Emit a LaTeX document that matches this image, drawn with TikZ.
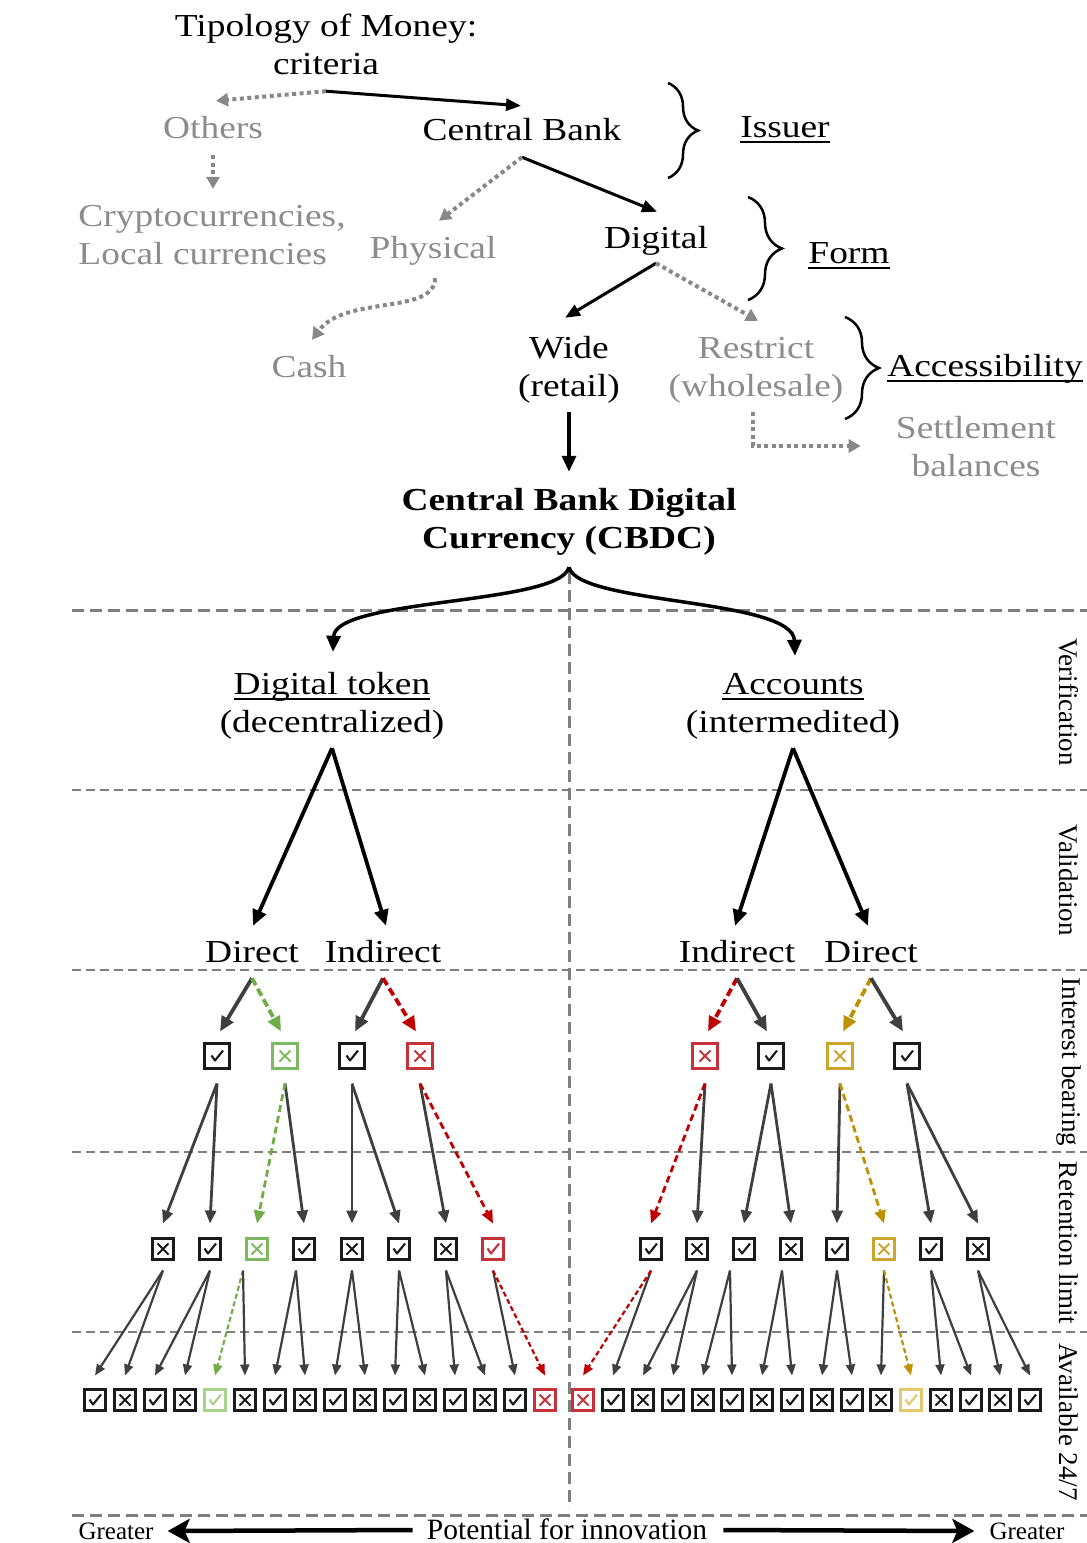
\documentclass[tikz,border=0pt]{standalone}
\usepackage{fontspec}
\setmainfont{Liberation Serif}[FakeStretch=1.17]
\newfontfamily\plainfont{Liberation Serif}
\usetikzlibrary{arrows.meta,calc,decorations.pathreplacing}
\definecolor{dg}{HTML}{3F3F3F}
\definecolor{gtxt}{HTML}{8C8C8C}
\definecolor{gar}{HTML}{888888}
\definecolor{dashc}{HTML}{7F7F7F}
\definecolor{cgrn}{HTML}{70AD47}
\definecolor{cred}{HTML}{C00000}
\definecolor{cgold}{HTML}{BF9000}
\definecolor{lgrn}{HTML}{7DB862}
\definecolor{llgrn}{HTML}{A9D18E}
\definecolor{lred}{HTML}{C7323A}
\definecolor{lgold}{HTML}{CCA52C}
\definecolor{llgold}{HTML}{E3C870}
\definecolor{bk}{HTML}{1A1A1A}
\newcommand\myul[1]{\setbox0\hbox{#1}\rlap{\rule[-5pt]{\wd0}{1.6pt}}\box0}
\begin{document}
\begin{tikzpicture}[x=1pt,y=-1pt,
 txt/.style={font=\fontsize{32}{38}\selectfont, inner sep=0pt, align=center},
 one/.style={text height=26.6pt, text depth=11.4pt},
 gtx/.style={txt, text=gtxt},
 side/.style={font=\plainfont\fontsize{27}{30}\selectfont, rotate=-90, inner sep=0pt},
 bt/.style={font=\plainfont\fontsize{25}{30}\selectfont, inner sep=0pt},
 bt2/.style={font=\plainfont\fontsize{29.5}{34}\selectfont, inner sep=0pt},
 hd/.style={draw=dashc, line width=2pt, dash pattern=on 9pt off 5pt},
 hdk/.style={draw=dashc, line width=3pt, dash pattern=on 12pt off 6pt},
 ar/.style={-{Triangle[length=15pt,width=12pt]}, line width=3pt, black},
 dt/.style={-{Triangle[length=12pt,width=13pt]}, line width=4pt, gar, dash pattern=on 4pt off 3.5pt},
 br/.style={decorate, decoration={brace, amplitude=#1}, line width=2.5pt},
 t1/.style={-{Triangle[length=16pt,width=14pt]}, line width=3.8pt, black},
 t2/.style={-{Triangle[length=15pt,width=13pt]}, line width=3.8pt, dg},
 t2d/.style={t2, draw=#1, dash pattern=on 8pt off 4pt},
 t3/.style={-{Triangle[length=13pt,width=11pt]}, line width=2.8pt, dg},
 t3d/.style={t3, draw=#1, dash pattern=on 7pt off 4pt},
 t4/.style={-{Triangle[length=11pt,width=9pt]}, line width=2.2pt, dg},
 t4d/.style={t4, draw=#1, dash pattern=on 5pt off 3pt},
 bigar/.style={-{Stealth[length=22pt,width=24pt,inset=5pt]}, line width=4.5pt, black},
 cbx/.style={draw=#1, line width=2.1pt, minimum size=21pt, inner sep=0pt, outer sep=0pt, fill=white},
 ibx/.style={minimum size=25pt},
 ck/.style={cbx=#1, path picture={\draw[#1, line width=2.1pt, line join=round]
   ([shift={(-5.5pt,0.5pt)}]path picture bounding box.center) --
   ([shift={(-2pt,-4.5pt)}]path picture bounding box.center) --
   ([shift={(6pt,5.5pt)}]path picture bounding box.center);}},
 xk/.style={cbx=#1, path picture={\draw[#1, line width=2pt]
   ([shift={(-5.5pt,-5.5pt)}]path picture bounding box.center) --
   ([shift={(5.5pt,5.5pt)}]path picture bounding box.center)
   ([shift={(-5.5pt,5.5pt)}]path picture bounding box.center) --
   ([shift={(5.5pt,-5.5pt)}]path picture bounding box.center);}}
]
\useasboundingbox (0,0) rectangle (1087,1543);

% ---------- grid ----------
\draw[hdk] (72,610) -- (1087,610);
\foreach \yy in {790,970,1152,1332} \draw[hd] (72,\yy) -- (1087,\yy);
\draw[hdk] (72,1515) -- (1087,1515);
\draw[hdk] (569,572) -- (569,1508);

% ---------- top part ----------
\node[txt] (title) at (326,48) {\strut Tipology of Money:\\\strut criteria};
\node[gtx,one] (others) at (213,131) {Others};
\node[gtx,align=left] (crypto) at (212,238) {\strut Cryptocurrencies,\\\strut Local currencies};
\node[txt,one] (cb) at (522,133) {Central Bank};
\node[gtx,one] (phys) at (433,251) {Physical};
\node[gtx,one] (cash) at (309,370) {Cash};
\node[txt,one] (dig) at (656,241) {Digital};
\node[txt] (wide) at (569,370) {\strut Wide\\\strut(retail)};
\node[gtx] (restr) at (756,370) {\strut Restrict\\\strut(wholesale)};
\node[gtx] (settle) at (976,450) {\strut Settlement\\\strut balances};
\node[txt,one] (issuer) at (785,130) {\myul{Issuer}};
\node[txt,one] (form) at (849,256) {\myul{Form}};
\node[txt,one] (access) at (985,369) {\myul{Accessibility}};
\node[txt,font=\fontsize{32}{38}\selectfont\bfseries] (cbdc) at (569,522) {\strut Central Bank Digital\\\strut Currency (CBDC)};

\draw[br=30pt] (668,83) -- (668,178);
\draw[br=34pt] (748,197) -- (748,300);
\draw[br=34pt] (845,317) -- (845,419);

\draw[ar] ($(title.south)+(0,5)$) -- ($(cb.north)+(-1,-8)$);
\draw[dt] ($(title.south)+(0,5)$) -- ($(others.north)+(3,-11)$);
\draw[dt] ($(others.south)+(0,5)$) -- ($(crypto.north)+(1,-11)$);
\draw[ar] ($(cb.south)+(0,5)$) -- ($(dig.north)+(1,-10)$);
\draw[dt] ($(cb.south)+(0,5)$) -- ($(phys.north)+(6,-11)$);
\draw[dt] ($(phys.south)+(2,8)$) .. controls (435,315) and (345,295) .. ($(cash.north)+(3,-11)$);
\draw[ar] ($(dig.south)+(0,3)$) -- ($(wide.north)+(-4,-14)$);
\draw[dt] ($(dig.south)+(0,3)$) -- ($(restr.north)+(2,-11)$);
\draw[dt] ($(restr.south)+(-3,4)$) |- ($(settle.west)+(-35,-4)$);
\draw[ar, line width=3.5pt, -{Triangle[length=16pt,width=14pt]}] ($(wide.south)+(0,4)$) -- ($(cbdc.north)+(0,-12)$);

\node[txt] (tok) at (332,706) {\strut\myul{Digital token}\\\strut(decentralized)};
\node[txt] (acc) at (793,706) {\strut\myul{Accounts}\\\strut(intermedited)};
\draw[ar, line width=3.5pt, -{Triangle[length=16pt,width=14pt]}] ($(cbdc.south)+(0,7)$) .. controls (560,605) and (335,598) .. ($(tok.north)+(1,-16)$);
\draw[ar, line width=3.5pt, -{Triangle[length=16pt,width=14pt]}] ($(cbdc.south)+(0,7)$) .. controls (578,605) and (793,598) .. ($(acc.north)+(2,-12)$);

% ---------- side labels ----------
\node[side] (s1) at (1069,702) {Verification};
\node[side] (s2) at (1069,880) {Validation};
\node[side] (s3) at (1069,1062) {Interest bearing};
\node[side] (s4) at (1069,1243) {Retention limit};
\node[side] (s5) at (1069,1422) {Available 24/7};

% ---------- validation ----------
\node[txt,one] (dL) at (252,955) {Direct};
\node[txt,one] (iL) at (383,955) {Indirect};
\node[txt,one] (iR) at (737,955) {Indirect};
\node[txt,one] (dR) at (871,955) {Direct};
\draw[t1] ($(tok.south)+(0,4)$) -- ($(dL.north)+(1,-10)$);
\draw[t1] ($(tok.south)+(0,4)$) -- ($(iL.north)+(3,-10)$);
\draw[t1] ($(acc.south)+(0,4)$) -- ($(iR.north)+(-2,-10)$);
\draw[t1] ($(acc.south)+(0,4)$) -- ($(dR.north)+(-3,-10)$);

% ---------- interest bearing boxes ----------
\node[ck=bk, ibx] (i1) at (217,1056) {};
\node[xk=lgrn, ibx] (i2) at (285,1056) {};
\node[ck=bk, ibx] (i3) at (352,1056) {};
\node[xk=lred, ibx] (i4) at (420,1056) {};
\node[xk=lred, ibx] (j1) at (705,1056) {};
\node[ck=bk, ibx] (j2) at (771,1056) {};
\node[xk=lgold, ibx] (j3) at (840,1056) {};
\node[ck=bk, ibx] (j4) at (907,1056) {};

\draw[t2] ($(dL.south)+(0,4)$) -- ($(i1.north)+(3,-12)$);
\draw[t2d=cgrn] ($(dL.south)+(0,4)$) -- ($(i2.north)+(-4,-12)$);
\draw[t2] ($(iL.south)+(0,4)$) -- ($(i3.north)+(3,-12)$);
\draw[t2d=cred] ($(iL.south)+(0,4)$) -- ($(i4.north)+(-4,-12)$);
\draw[t2d=cred] ($(iR.south)+(0,4)$) -- ($(j1.north)+(3,-12)$);
\draw[t2] ($(iR.south)+(0,4)$) -- ($(j2.north)+(-4,-12)$);
\draw[t2d=cgold] ($(dR.south)+(0,4)$) -- ($(j3.north)+(3,-12)$);
\draw[t2] ($(dR.south)+(0,4)$) -- ($(j4.north)+(-4,-12)$);

% ---------- retention boxes ----------
\node[xk=bk] (r1) at (163,1249) {};
\node[ck=bk] (r2) at (210,1249) {};
\node[xk=lgrn]  (r3) at (257,1249) {};
\node[ck=bk] (r4) at (304,1249) {};
\node[xk=bk] (r5) at (352,1249) {};
\node[ck=bk] (r6) at (399,1249) {};
\node[xk=bk] (r7) at (446,1249) {};
\node[ck=lred]  (r8) at (493,1249) {};
\node[ck=bk] (q1) at (651,1249) {};
\node[xk=bk] (q2) at (697,1249) {};
\node[ck=bk] (q3) at (744,1249) {};
\node[xk=bk] (q4) at (791,1249) {};
\node[ck=bk] (q5) at (837,1249) {};
\node[xk=lgold] (q6) at (884,1249) {};
\node[ck=bk] (q7) at (931,1249) {};
\node[xk=bk] (q8) at (978,1249) {};

\foreach \a/\b in {i1/r1,i1/r2,i2/r4,i3/r5,i3/r6,i4/r7,j1/q2,j2/q3,j2/q4,j3/q5,j4/q7,j4/q8}
  \draw[t3] ($(\a.south)+(0,15)$) -- ($(\b.north)+(0,-15)$);
\draw[t3d=cgrn] ($(i2.south)+(0,15)$) -- ($(r3.north)+(0,-15)$);
\draw[t3d=cred] ($(i4.south)+(0,15)$) -- ($(r8.north)+(0,-15)$);
\draw[t3d=cred] ($(j1.south)+(0,15)$) -- ($(q1.north)+(0,-15)$);
\draw[t3d=cgold] ($(j3.south)+(0,15)$) -- ($(q6.north)+(0,-15)$);

% ---------- available 24/7 boxes ----------
\node[ck=bk] (b1) at (95,1400) {};
\node[xk=bk] (b2) at (125,1400) {};
\node[ck=bk] (b3) at (155,1400) {};
\node[xk=bk] (b4) at (185,1400) {};
\node[ck=llgrn] (b5) at (215,1400) {};
\node[xk=bk] (b6) at (245,1400) {};
\node[ck=bk] (b7) at (275,1400) {};
\node[xk=bk] (b8) at (305,1400) {};
\node[ck=bk] (b9) at (335,1400) {};
\node[xk=bk] (b10) at (365,1400) {};
\node[ck=bk] (b11) at (395,1400) {};
\node[xk=bk] (b12) at (425,1400) {};
\node[ck=bk] (b13) at (455,1400) {};
\node[xk=bk] (b14) at (485,1400) {};
\node[ck=bk] (b15) at (515,1400) {};
\node[xk=lred] (b16) at (545,1400) {};
\node[xk=lred] (c1) at (583,1400) {};
\node[ck=bk] (c2) at (613,1400) {};
\node[xk=bk] (c3) at (643,1400) {};
\node[ck=bk] (c4) at (673,1400) {};
\node[xk=bk] (c5) at (703,1400) {};
\node[ck=bk] (c6) at (732,1400) {};
\node[xk=bk] (c7) at (762,1400) {};
\node[ck=bk] (c8) at (792,1400) {};
\node[xk=bk] (c9) at (822,1400) {};
\node[ck=bk] (c10) at (852,1400) {};
\node[xk=bk] (c11) at (881,1400) {};
\node[ck=llgold] (c12) at (911,1400) {};
\node[xk=bk] (c13) at (941,1400) {};
\node[ck=bk] (c14) at (971,1400) {};
\node[xk=bk] (c15) at (1000,1400) {};
\node[ck=bk] (c16) at (1030,1400) {};

\foreach \a/\b in {r1/b1,r1/b2,r2/b3,r2/b4,r5/b9,r5/b10,r6/b11,r6/b12,r7/b13,r7/b14,r8/b15,q1/c2,q2/c3,q2/c4,q5/c9,q5/c10,q6/c11,q7/c13,q7/c14,q8/c15,q8/c16}
  \draw[t4] ($(\a.south)+(0,11)$) -- ($(\b.north)+(0,-14)$);
\draw[t4d=cgrn] ($(r3.south)+(-14,11)$) -- ($(b5.north)+(0,-14)$);
\draw[t4] ($(r3.south)+(-14,11)$) -- ($(b6.north)+(0,-14)$);
\draw[t4] ($(r4.south)+(-8,11)$) -- ($(b7.north)+(0,-14)$);
\draw[t4] ($(r4.south)+(-8,11)$) -- ($(b8.north)+(0,-14)$);
\draw[t4d=cred] ($(r8.south)+(0,11)$) -- ($(b16.north)+(0,-14)$);
\draw[t4d=cred] ($(q1.south)+(0,11)$) -- ($(c1.north)+(0,-14)$);
\draw[t4] ($(q3.south)+(-14,11)$) -- ($(c5.north)+(0,-14)$);
\draw[t4] ($(q3.south)+(-14,11)$) -- ($(c6.north)+(0,-14)$);
\draw[t4] ($(q4.south)+(-9,11)$) -- ($(c7.north)+(0,-14)$);
\draw[t4] ($(q4.south)+(-9,11)$) -- ($(c8.north)+(0,-14)$);
\draw[t4d=cgold] ($(q6.south)+(0,11)$) -- ($(c12.north)+(0,-14)$);

% ---------- bottom ----------
\node[bt] (g1) at (116,1531) {Greater};
\node[bt2] (pot) at (567,1529) {Potential for innovation};
\node[bt] (g2) at (1027,1531) {Greater};
\draw[bigar] ($(pot.west)+(-14,1)$) -- ($(g1.east)+(14,0)$);
\draw[bigar] ($(pot.east)+(16,1)$) -- ($(g2.west)+(-15,0)$);
\end{tikzpicture}
\end{document}
